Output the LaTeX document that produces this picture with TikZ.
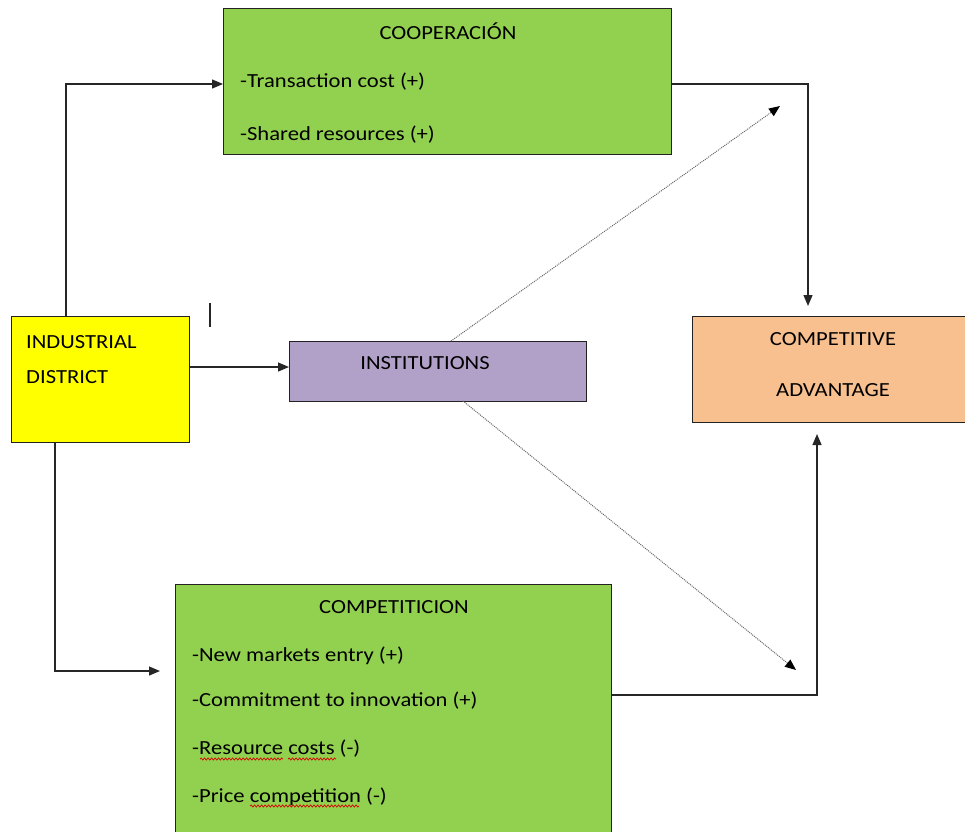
\documentclass[tikz,border=0pt]{standalone}
\usepackage{fontspec}
\setmainfont{Carlito}[FakeStretch=1.13]
\usetikzlibrary{arrows.meta,decorations.pathmorphing}
\definecolor{boxgreen}{HTML}{92D050}
\definecolor{boxyellow}{HTML}{FFFF00}
\definecolor{boxpurple}{HTML}{B1A0C7}
\definecolor{boxorange}{HTML}{F8BF8F}
\definecolor{edge}{HTML}{222222}
\begin{document}
\begin{tikzpicture}[x=1pt,y=-1pt,
  box/.style={draw=edge,line width=1.4pt,inner sep=0pt},
  txt/.style={font=\fontsize{20}{24}\selectfont,inner sep=0pt,text=black},
  conn/.style={line width=1.3pt,draw=black!85,-{Triangle[length=11pt,width=9pt]}},
  dot/.style={line width=1pt,draw=black!60,densely dotted,-{Triangle[length=11pt,width=9pt,black,fill=black]}},
  spell/.style={draw=red!85!black,line width=0.7pt,decorate,decoration={snake,amplitude=1.1pt,segment length=3.5pt}}]
\useasboundingbox (0,0) rectangle (965,831);
\begin{scope}
\clip (0,0) rectangle (965,831);
% boxes
\node[box,fill=boxgreen,minimum width=448pt,minimum height=146pt,anchor=north west] (coop) at (223,8) {};
\node[box,fill=boxyellow,minimum width=178pt,minimum height=126pt,anchor=north west] (id) at (11,316) {};
\node[box,fill=boxpurple,minimum width=297pt,minimum height=60pt,anchor=north west] (inst) at (289,341) {};
\node[box,fill=boxorange,minimum width=280pt,minimum height=106pt,anchor=north west] (ca) at (692,316) {};
\node[box,fill=boxgreen,minimum width=436pt,minimum height=260pt,anchor=north west] (comp) at (175,584) {};
\end{scope}
% texts
\node[txt] (coopT) at (448,31) {COOPERACIÓN};
\node[txt,anchor=west] (coop1) at (240,82) {-Transaction cost (+)};
\node[txt,anchor=west] (coop2) at (240,135) {-Shared resources (+)};
\node[txt,anchor=west] (id1) at (26,342) {INDUSTRIAL};
\node[txt,anchor=west] (id2) at (26,377) {DISTRICT};
\node[txt] (instT) at (425,363) {INSTITUTIONS};
\node[txt] (ca1) at (833,339) {COMPETITIVE};
\node[txt] (ca2) at (833,390) {ADVANTAGE};
\node[txt] (compT) at (394,607) {COMPETITICION};
\node[txt,anchor=west] (c1) at (192,656) {-New markets entry (+)};
\node[txt,anchor=west] (c2) at (192,701) {-Commitment to innovation (+)};
\node[txt,anchor=west] (c3) at (192,749) {-Resource costs (-)};
\node[txt,anchor=west] (c4) at (192,797) {-Price competition (-)};
% spell-check underlines
\coordinate (s1a) at (200,759); \coordinate (s1b) at (283,759);
\coordinate (s2a) at (288,759); \coordinate (s2b) at (336,759);
\coordinate (s3a) at (250,806); \coordinate (s3b) at (359,806);
\draw[spell] (s1a) -- (s1b);
\draw[spell] (s2a) -- (s2b);
\draw[spell] (s3a) -- (s3b);
% small stray mark
\coordinate (m1) at (210,303); \coordinate (m2) at (210,327);
\draw[line width=1.2pt,black!85] (m1) -- (m2);
% connectors
\coordinate (idtop) at (66,316);
\draw[conn] (idtop) |- (coop.west |- 0,84);
\draw[conn] (id.east |- 0,367) -- (inst.west |- 0,367);
\coordinate (idbot) at (55,442);
\coordinate (compin) at (160,671);
\draw[conn] (idbot) |- (compin);
\coordinate (caTopIn) at (808,306);
\draw[conn] (coop.east |- 0,84) -| (caTopIn);
\coordinate (caBotIn) at (817,434);
\draw[conn] (comp.east |- 0,695) -| (caBotIn);
\coordinate (up) at (780,106);
\coordinate (dn) at (796,670);
\draw[dot] (451,341) -- (up);
\draw[dot] (463,401) -- (dn);
\end{tikzpicture}
\end{document}
